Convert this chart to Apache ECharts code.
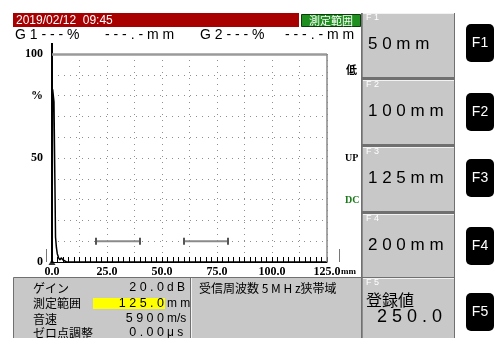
<!DOCTYPE html>
<html>
<head>
<meta charset="utf-8">
<script src="https://cdn.jsdelivr.net/npm/echarts@6/dist/echarts.min.js"></script>
<style>
html,body{margin:0;padding:0;background:#fff;}
#c{width:496px;height:338px;}
</style>
</head>
<body>
<div id="c"></div>
<script>
// A-scan trace: beam path (mm) against echo height (%)
const pathMm  = [0, 0.3, 0.6, 0.9, 1.3, 1.6, 2.0, 2.4, 3.0, 3.6, 4.2, 5.0, 5.8, 6.6, 125];
const echoPct = [0, 83, 83, 77, 40, 12, 7, 4, 2, 1, 2, 1, 1, 0, 0];

// Gates: [start mm, end mm, level %]
const gateA = [20, 40, 10];
const gateB = [60, 80, 10];

// Axis labelling
const xLabelTicks = [0, 25, 50, 75, 100, 125];
const yLabelText = {100: '100', 80: '%', 50: '50', 0: '0'};

// Status lines
const dateTime = '2019/02/12  09:45';
const modeName = '測定範囲';
const gateReadouts = ['G1---%', '---.-mm', 'G2---%', '---.-mm'];
const sideMarks = ['低', 'UP', 'DC'];

// Function keys
const fKeyNames = ['F1', 'F2', 'F3', 'F4', 'F5'];
const fKeyValues = ['50mm', '100mm', '125mm', '200mm'];
const registeredLabel = '登録値';
const registeredValue = '250.0';

// Settings block
const settingNames  = ['ゲイン', '測定範囲', '音速', 'ゼロ点調整'];
const settingValues = ['20.0', '125.0', '5900', '0.00'];
const settingUnits  = ['dB', 'mm', 'm/s', 'μs'];
const probeInfo = ['受信周波数', '5MHz', '狭帯域'];

const CJK = '"Noto Sans CJK JP"';
const SANS = '"Liberation Sans"';
const SERIF = '"Liberation Serif"';
const spread = s => s.split('').join(' ');

const T = (x, y, text, font, fill, align) => ({
  type: 'text', x: x, y: y, silent: true,
  style: {text: text, font: font, fill: fill || '#000', textAlign: align || 'left', textVerticalAlign: 'middle'}
});
const R = (x, y, w, h, fill, stroke, lw, r) => ({
  type: 'rect', silent: true, shape: {x: x, y: y, width: w, height: h, r: r || 0},
  style: {fill: fill, stroke: stroke || null, lineWidth: lw || 0}
});
const L = (x1, y1, x2, y2, stroke, lw) => ({
  type: 'line', silent: true, shape: {x1: x1, y1: y1, x2: x2, y2: y2},
  style: {stroke: stroke, lineWidth: lw || 1}
});

const g = [];

// Header: date bar and mode tag
g.push(R(13, 13, 286, 14, '#a80000'));
g.push(T(16, 20.5, dateTime, '12px ' + SANS, '#fff'));
g.push(R(301.5, 14.5, 59, 12, '#1f8f1f', '#0b3b0b', 1));
g.push(T(331, 20.5, modeName, '11px ' + CJK, '#fff', 'center'));

// Gate readouts
const readX = [15, 105, 200, 285];
gateReadouts.forEach((s, i) => g.push(T(readX[i], 35, spread(s), '14px ' + SANS, '#000')));

// Axis extension above the 100 % line, and range brackets
g.push(L(52, 43, 52, 55, '#000', 2));
g.push(L(46.5, 249, 46.5, 262, '#777', 1));
g.push(L(339.5, 249, 339.5, 262, '#777', 1));
g.push(T(341, 272, 'mm', 'bold 9px ' + SERIF, '#000'));

// Side marks
g.push(T(346, 70, sideMarks[0], 'bold 11px ' + CJK, '#000', 'left'));
g.push(T(345, 158, sideMarks[1], 'bold 10px ' + SERIF, '#000', 'left'));
g.push(T(345, 200, sideMarks[2], 'bold 10px ' + SERIF, '#1a7a1a', 'left'));

// Function key panels
g.push(R(361, 13, 94, 325, '#707070'));
const panelTop = [13, 80, 147, 214, 278];
const panelH = [64, 64, 64, 63, 60];
panelTop.forEach((t, i) => {
  g.push(R(362, t, 92, panelH[i], '#c8c8c8'));
  g.push(L(362, t + 0.5, 454, t + 0.5, '#f2f2f2', 1));
  g.push(L(362.5, t, 362.5, t + panelH[i], '#8c8c8c', 1));
  g.push(T(366, t + 5, spread(fKeyNames[i]), '9px ' + SANS, '#ffffff'));
});
fKeyValues.forEach((s, i) => g.push(T(368, panelTop[i] + 31, spread(s), '17px ' + SANS, '#000')));
g.push(T(366, 300, registeredLabel, '16px ' + CJK, '#000'));
g.push(T(377, 317, spread(registeredValue), '18px ' + SANS, '#000'));

// Hardware keys
const keyMid = [43, 112, 178, 246, 312];
keyMid.forEach((m, i) => {
  g.push(R(466, m - 19, 28, 38, '#000', null, 0, 5));
  g.push(T(480, m + 0.5, fKeyNames[i], '14px ' + SANS, '#fff', 'center'));
});

// Settings block
g.push(R(13.5, 277.5, 348, 62, '#c8c8c8', '#707070', 1));
g.push(L(190.5, 278, 190.5, 338, '#707070', 1));
g.push(L(191.5, 278, 191.5, 338, '#f2f2f2', 1));
g.push(R(93, 298, 72, 11, '#ffff00'));
const rowY = [288, 303.5, 319, 333];
settingNames.forEach((s, i) => {
  g.push(T(33, rowY[i], s, '12px ' + CJK, '#000'));
  g.push(T(164, rowY[i], spread(settingValues[i]), '12.5px ' + SANS, '#000', 'right'));
  g.push(T(167, rowY[i], settingUnits[i] === 'm/s' ? settingUnits[i] : spread(settingUnits[i]), '12px ' + SANS, '#000'));
});
g.push(T(199, 288, probeInfo[0] + ' ' + spread(probeInfo[1]) + probeInfo[2], '12px ' + CJK, '#000'));

const chart = echarts.init(document.getElementById('c'), null, {renderer: 'canvas', width: 496, height: 338});

const gateSeries = (gate) => ({
  type: 'line',
  data: [[gate[0], gate[2]], [gate[1], gate[2]]],
  symbol: 'rect', symbolSize: [2, 7],
  itemStyle: {color: '#555'},
  lineStyle: {color: '#8a8a8a', width: 2},
  silent: true, z: 3
});

chart.setOption({
  backgroundColor: '#ffffff',
  animation: false,
  grid: {left: 52, right: 169, top: 54, bottom: 76},
  xAxis: {
    type: 'value', min: 0, max: 125, interval: 12.5,
    axisLine: {show: true, onZero: false, lineStyle: {color: '#000', width: 1}},
    axisTick: {show: true, inside: true, length: 5, lineStyle: {color: '#000'}},
    minorTick: {show: true, splitNumber: 5, length: 5, lineStyle: {color: '#000'}},
    axisLabel: {
      formatter: v => xLabelTicks.includes(v) ? v.toFixed(1) : '',
      fontFamily: SERIF, fontWeight: 'bold', fontSize: 12, color: '#000', margin: 4,
      showMinLabel: true, showMaxLabel: true
    },
    splitLine: {show: true, lineStyle: {color: '#8f8f8f', width: 1, type: [1, 5]}}
  },
  yAxis: {
    type: 'value', min: 0, max: 100, interval: 10,
    axisLine: {show: true, lineStyle: {color: '#000', width: 2}},
    axisTick: {show: false},
    axisLabel: {
      formatter: v => yLabelText[v] || '',
      fontFamily: SERIF, fontWeight: 'bold', fontSize: 12, color: '#000', margin: 9
    },
    splitLine: {show: true, lineStyle: {color: '#8f8f8f', width: 1, type: [1, 5]}}
  },
  series: [
    {
      type: 'line',
      data: pathMm.map((x, i) => [x, echoPct[i]]),
      symbol: 'none',
      lineStyle: {color: '#000', width: 1.5},
      silent: true, z: 4,
      markLine: {
        silent: true, symbol: 'none', label: {show: false},
        data: [
          {yAxis: 100, lineStyle: {color: '#9a9a9a', width: 2.5, type: 'solid'}},
          {xAxis: 125, lineStyle: {color: '#888', width: 1.5, type: 'solid'}}
        ]
      }
    },
    gateSeries(gateA),
    gateSeries(gateB),
    {
      type: 'scatter',
      data: [[0, 0]],
      symbol: 'triangle', symbolSize: [7, 6],
      itemStyle: {color: '#000'},
      clip: false, silent: true, z: 5
    }
  ],
  graphic: g
});
</script>
</body>
</html>
